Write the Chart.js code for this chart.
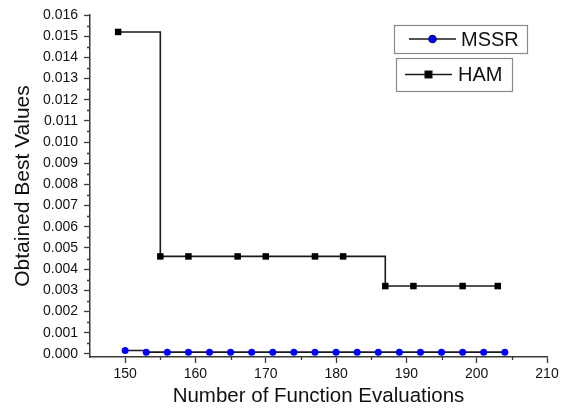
<!DOCTYPE html>
<html>
<head>
<meta charset="utf-8">
<script src="https://cdn.jsdelivr.net/npm/chart.js@4"></script>
<style>
	html, body { margin: 0; padding: 0; background: #fff; }
	#wrap { width: 562px; height: 413px; }
</style>
</head>
<body>
<div id="wrap"><canvas id="chart" width="562" height="413"></canvas></div>
<script>
// Convergence data.
const mssrX = [ 150, 153, 156, 159, 162, 165, 168, 171, 174, 177, 180, 183, 186, 189, 192, 195, 198, 201, 204 ];
const mssrY = [ 0.00016, 0.00008, 0.00008, 0.00008, 0.00008, 0.00008, 0.00008, 0.00008, 0.00008, 0.00008,
	0.00008, 0.00008, 0.00008, 0.00008, 0.00008, 0.00008, 0.00008, 0.00008, 0.00008 ];
const hamX = [ 149, 155, 159, 166, 170, 177, 181, 187, 191, 198, 203 ];
const hamY = [ 0.0152, 0.0046, 0.0046, 0.0046, 0.0046, 0.0046, 0.0046, 0.0032, 0.0032, 0.0032, 0.0032 ];
const seriesNames = [ 'MSSR', 'HAM' ];
const xMinor = [ 155, 165, 175, 185, 195, 205 ];
const yMinor = [ 0.0005, 0.0015, 0.0025, 0.0035, 0.0045, 0.0055, 0.0065, 0.0075, 0.0085, 0.0095, 0.0105, 0.0115, 0.0125, 0.0135, 0.0145, 0.0155 ];

const FONT = "'Liberation Sans', Arial, sans-serif";
const AXIS = '#3a3a3a';

const pts = ( xs, ys ) => xs.map( ( x, i ) => ( { x, y: ys[ i ] } ) );

// Short outward minor ticks, like Origin draws them.
const minorTicks = {
	id: 'minorTicks',
	afterDraw( chart ) {
		const { ctx, chartArea, scales } = chart;
		ctx.save();
		ctx.strokeStyle = AXIS;
		ctx.lineWidth = 1.3;
		ctx.beginPath();
		xMinor.forEach( ( v ) => {
			const px = Math.round( scales.x.getPixelForValue( v ) ) + 0.5;
			ctx.moveTo( px, chartArea.bottom );
			ctx.lineTo( px, chartArea.bottom + 3 );
		} );
		yMinor.forEach( ( v ) => {
			const py = Math.round( scales.y.getPixelForValue( v ) ) + 0.5;
			ctx.moveTo( chartArea.left, py );
			ctx.lineTo( chartArea.left - 3, py );
		} );
		ctx.stroke();
		ctx.restore();
	},
};

// Two separate framed legend entries, stacked at top right.
const boxLegend = {
	id: 'boxLegend',
	afterDraw( chart ) {
		const { ctx } = chart;
		const boxes = [
			{ x: 394, y: 25, w: 133, h: 28, lx1: 409, lx2: 456, tx: 461 },
			{ x: 396, y: 58, w: 116, h: 33, lx1: 405, lx2: 452, tx: 458 },
		];
		ctx.save();
		chart.data.datasets.forEach( ( ds, i ) => {
			const b = boxes[ i ];
			const cy = b.y + b.h / 2;
			ctx.strokeStyle = '#8a8a8a';
			ctx.lineWidth = 1.2;
			ctx.strokeRect( b.x + 0.5, b.y + 0.5, b.w, b.h );
			ctx.strokeStyle = ds.borderColor;
			ctx.lineWidth = ds.borderWidth;
			ctx.beginPath();
			ctx.moveTo( b.lx1, cy );
			ctx.lineTo( b.lx2, cy );
			ctx.stroke();
			Chart.helpers.drawPoint( ctx, {
				pointStyle: ds.pointStyle,
				radius: ds.pointRadius,
				borderWidth: 1,
			}, ( b.lx1 + b.lx2 ) / 2, cy );
			ctx.fillStyle = ds.pointBackgroundColor;
			ctx.fill();
			ctx.fillStyle = '#111';
			ctx.font = '20px ' + FONT;
			ctx.textBaseline = 'middle';
			ctx.fillText( ds.label, b.tx, cy + 1 );
		} );
		ctx.restore();
	},
};

new Chart( document.getElementById( 'chart' ), {
	type: 'line',
	data: {
		datasets: [
			{
				label: seriesNames[ 0 ],
				data: pts( mssrX, mssrY ),
				stepped: true,
				borderColor: '#1a1a1a',
				borderWidth: 1.6,
				pointStyle: 'circle',
				pointRadius: 3.5,
				pointBackgroundColor: '#0000ff',
				pointBorderColor: '#0000ff',
				pointBorderWidth: 0,
			},
			{
				label: seriesNames[ 1 ],
				data: pts( hamX, hamY ),
				stepped: true,
				borderColor: '#1a1a1a',
				borderWidth: 1.6,
				pointStyle: 'rect',
				pointRadius: 4.6,
				pointBackgroundColor: '#000',
				pointBorderColor: '#000',
				pointBorderWidth: 0,
			},
		],
	},
	options: {
		responsive: false,
		animation: false,
		layout: { padding: { top: 15, right: 15, bottom: 0, left: 0 } },
		plugins: { legend: { display: false }, tooltip: { enabled: false } },
		scales: {
			x: {
				type: 'linear',
				min: 145,
				max: 210,
				afterFit: ( s ) => { s.height = 56; },
				border: { display: true, color: AXIS, width: 1.5 },
				grid: { drawOnChartArea: false, drawTicks: true, tickLength: 6, tickColor: AXIS, tickWidth: 1.3 },
				ticks: { stepSize: 10, includeBounds: false, color: '#111', padding: 3, font: { family: FONT, size: 14 }, maxRotation: 0 },
				title: { display: true, text: 'Number of Function Evaluations', color: '#111', font: { family: FONT, size: 20.5 }, padding: { top: 0, bottom: 4 } },
			},
			y: {
				min: -0.00015,
				max: 0.016,
				afterFit: ( s ) => { s.width = 90; },
				border: { display: true, color: AXIS, width: 1.5 },
				grid: { drawOnChartArea: false, drawTicks: true, tickLength: 6, tickColor: AXIS, tickWidth: 1.3 },
				ticks: {
					stepSize: 0.001,
					includeBounds: false,
					color: '#111',
					padding: 6,
					font: { family: FONT, size: 14 },
					callback: ( v ) => Number( v ).toFixed( 3 ),
				},
				title: { display: true, text: 'Obtained Best Values', color: '#111', font: { family: FONT, size: 21 }, padding: { top: 11, bottom: 0 } },
			},
		},
	},
	plugins: [ minorTicks, boxLegend ],
} );
</script>
</body>
</html>
